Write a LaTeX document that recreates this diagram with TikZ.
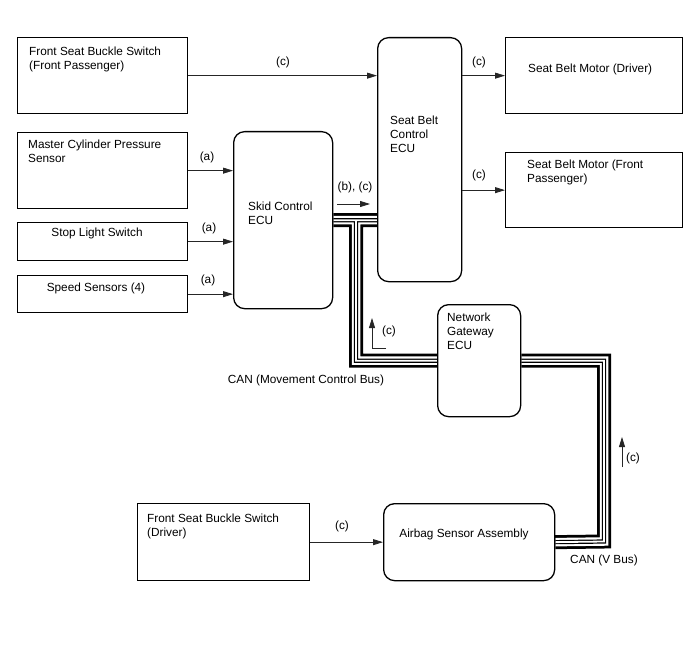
\documentclass[tikz,border=0pt]{standalone}
\usepackage{fontspec}
\setmainfont{Liberation Sans}
\usetikzlibrary{positioning,arrows.meta}
\pgfdeclarelayer{bus}
\pgfsetlayers{bus,main}

\tikzset{
  unit/.style={draw,line width=1.3pt,anchor=north west,inner sep=0pt},
  ecu/.style={unit,rounded corners=11pt},
  txt/.style={anchor=north west,inner sep=0pt,align=left},
  sig/.style={draw=black!85,line width=0.8pt,-{Triangle[length=10pt,width=6pt]}},
  tag/.style={inner sep=0pt}
}

\begin{document}
\begin{tikzpicture}[x=1pt,y=-1pt,font=\fontsize{11.8}{14}\selectfont]
\useasboundingbox (0,0) rectangle (688,658);
% Units and ECUs
\node[unit,minimum width=170pt,minimum height=76pt] (fsbsp) at (17,37) {};
\node[unit,minimum width=170pt,minimum height=76pt] (mcps) at (17,132) {};
\node[unit,minimum width=170pt,minimum height=38pt] (sls) at (17,222) {};
\node[unit,minimum width=170pt,minimum height=37pt] (spd) at (17,275) {};
\node[ecu,minimum width=99pt,minimum height=177pt] (skid) at (233,131) {};
\node[ecu,minimum width=84pt,minimum height=244pt] (sbc) at (377,37) {};
\node[unit,minimum width=177pt,minimum height=76pt] (motd) at (505,37) {};
\node[unit,minimum width=177pt,minimum height=75pt] (motp) at (505,152) {};
\node[ecu,minimum width=83pt,minimum height=112pt] (gw) at (437,304) {};
\node[unit,minimum width=172pt,minimum height=77pt] (fsbsd) at (137,503) {};
\node[ecu,minimum width=171pt,minimum height=77pt] (abg) at (383,503) {};

% Texts inside
\node[txt,below right=9.5pt and 12pt of fsbsp.north west] (tfsbsp) {Front Seat Buckle Switch\\(Front Passenger)};
\node[txt,below right=7.5pt and 11pt of mcps.north west] (tmcps) {Master Cylinder Pressure\\Sensor};
\node[anchor=base,inner sep=0pt] (tsls) at (97,236.3) {Stop Light Switch};
\node[anchor=base,inner sep=0pt] (tspd) at (96,291.3) {Speed Sensors (4)};
\node[txt,below right=70.5pt and 15pt of skid.north west] (tskid) {Skid Control\\ECU};
\node[txt,below right=78.5pt and 13pt of sbc.north west] (tsbc) {Seat Belt\\Control\\ECU};
\node[txt,below right=26.5pt and 23pt of motd.north west] (tmotd) {Seat Belt Motor (Driver)};
\node[txt,below right=7.5pt and 22pt of motp.north west] (tmotp) {Seat Belt Motor (Front\\Passenger)};
\node[txt,below right=8.5pt and 10pt of gw.north west] (tgw) {Network\\Gateway\\ECU};
\node[txt,below right=10.5pt and 10pt of fsbsd.north west] (tfsbsd) {Front Seat Buckle Switch\\(Driver)};
\node[anchor=base,inner sep=0pt] (tabg) at (464,537.3) {Airbag Sensor Assembly};

% Signal lines
\draw[sig] (fsbsp.east) -- (fsbsp.east -| sbc.west);
\draw[sig] (sbc.east |- motd.west) -- (motd.west);
\draw[sig] (sbc.east |- motp.west) -- (motp.west);
\draw[sig] (mcps.east) -- (mcps.east -| skid.west);
\draw[sig] (sls.east) -- (sls.east -| skid.west);
\draw[sig] (spd.east) -- (spd.east -| skid.west);
\draw[sig] (fsbsd.east) -- (fsbsd.east -| abg.west);

\node[tag] (cfs) at (283,62) {(c)};
\node[tag] (cmd) at (479,62) {(c)};
\node[tag] (cmp) at (479,175) {(c)};
\node[tag] (amc) at (207,157) {(a)};
\node[tag] (asl) at (209,228) {(a)};
\node[tag] (asp) at (208,280) {(a)};
\node[tag] (cdr) at (342,526) {(c)};

% CAN buses
\coordinate (bj) at (356,219.5);
\coordinate (rc) at (604,541.5);
\begin{pgfonlayer}{bus}
\foreach \w/\c in {14/black,8.5/white,4.2/black,1.8/white}
  \draw[\c,line width=\w pt] (skid.east) -- (skid.east -| sbc.west)
    (bj) |- (gw.west) (gw.east) -| (rc) -- (abg.east);
\end{pgfonlayer}

% Bus direction marks
\coordinate (bcS) at (337,204);
\coordinate (bcE) at (370,204);
\draw[sig] (bcS) -- (bcE);
\node[tag] (bc) at (355,187) {(b), (c)};
\coordinate (lA) at (386,348);
\coordinate (lB) at (372,318);
\draw[sig] (lA) -| (lB);
\node[tag] (cl) at (389,331) {(c)};
\coordinate (rA) at (622,467);
\coordinate (rB) at (622,437);
\draw[sig] (rA) -- (rB);
\node[tag] (cr) at (633,458) {(c)};

\node[tag] (can1) at (306,380) {CAN (Movement Control Bus)};
\node[tag] (can2) at (604,560) {CAN (V Bus)};
\end{tikzpicture}
\end{document}
